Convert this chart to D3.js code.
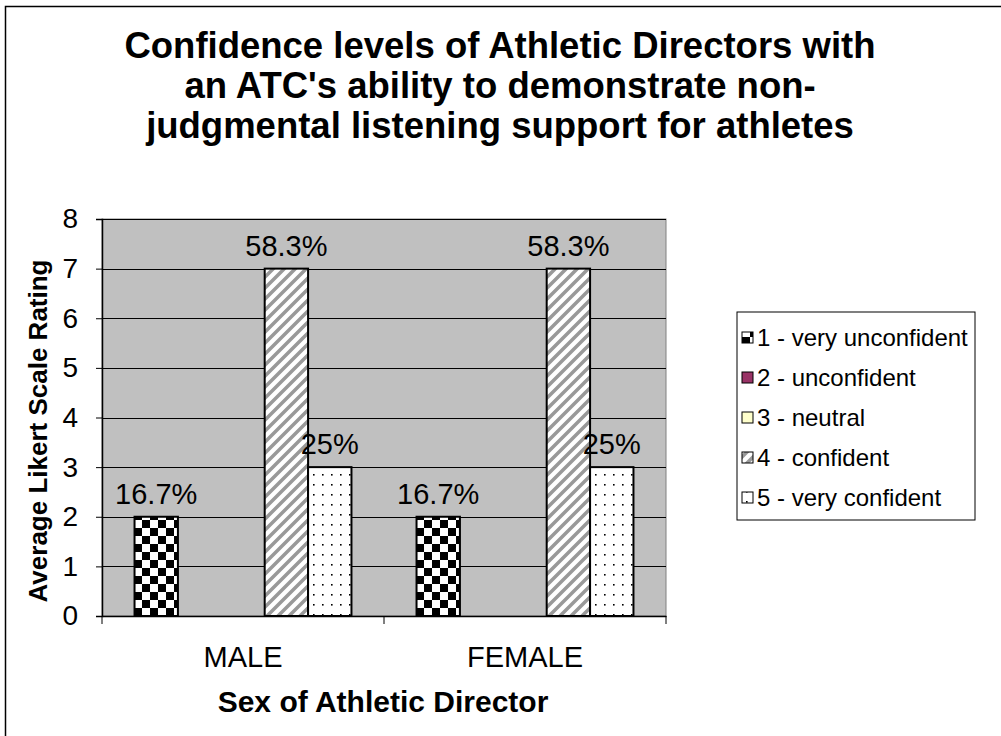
<!DOCTYPE html>
<html>
<head>
<meta charset="utf-8">
<script src="https://cdn.jsdelivr.net/npm/d3@7"></script>
<style>
  body { margin: 0; background: #fff; }
  svg { display: block; font-family: "Liberation Sans", Arial, sans-serif; }
</style>
</head>
<body>
<svg width="1001" height="736"></svg>
<script>
const categories = ["MALE", "FEMALE"];
const seriesNames = ["1 - very unconfident", "2 - unconfident", "3 - neutral", "4 - confident", "5 - very confident"];
const maleValues = [2, 0, 0, 7, 3];
const femaleValues = [2, 0, 0, 7, 3];
const barLabels = ["16.7%", "", "", "58.3%", "25%"];
const yTicks = [0, 1, 2, 3, 4, 5, 6, 7, 8];
const titleLines = ["Confidence levels of Athletic Directors with", "an ATC's ability to demonstrate non-", "judgmental listening support for athletes"];

const svg = d3.select("svg");
const plot = {left: 102, right: 666, top: 219, bottom: 616};
const font = "Liberation Sans, Arial, sans-serif";

// patterns
const defs = svg.append("defs");
const checker = defs.append("pattern").attr("id", "p0")
    .attr("patternUnits", "userSpaceOnUse").attr("width", 16).attr("height", 16);
checker.append("rect").attr("width", 16).attr("height", 16).attr("fill", "#fff");
checker.append("rect").attr("width", 8).attr("height", 8).attr("fill", "#000");
checker.append("rect").attr("x", 8).attr("y", 8).attr("width", 8).attr("height", 8).attr("fill", "#000");

const stripes = defs.append("pattern").attr("id", "p3")
    .attr("patternUnits", "userSpaceOnUse").attr("width", 11).attr("height", 11);
stripes.append("rect").attr("width", 11).attr("height", 11).attr("fill", "#fff");
stripes.append("path").attr("d", "M-2,13 L13,-2 M-2,2 L2,-2 M9,13 L13,9")
    .attr("stroke", "#999").attr("stroke-width", 3.5);

const dots = defs.append("pattern").attr("id", "p4")
    .attr("patternUnits", "userSpaceOnUse").attr("width", 9).attr("height", 10);
dots.append("rect").attr("width", 9).attr("height", 10).attr("fill", "#fff");
dots.append("rect").attr("x", 4).attr("y", 4).attr("width", 1.6).attr("height", 1.6).attr("fill", "#000");

const fills = ["url(#p0)", "#993366", "#FFFFCC", "url(#p3)", "url(#p4)"];

// outer frame
svg.append("path").attr("d", "M5.5,740 V6.5 H1005")
    .attr("fill", "none").attr("stroke", "#000").attr("stroke-width", 1.5);

// title
svg.append("text").attr("x", 500).attr("y", 58)
    .attr("text-anchor", "middle").attr("font-size", 36.5).attr("font-weight", "bold")
  .selectAll("tspan").data(titleLines).enter().append("tspan")
    .attr("x", 500).attr("dy", (d, i) => i === 0 ? 0 : 40)
    .text(d => d);

const y = d3.scaleLinear().domain([0, 8]).range([plot.bottom, plot.top]);
const x0 = d3.scaleBand().domain(categories).range([plot.left, plot.right]);
const x1 = d3.scaleBand().domain(d3.range(seriesNames.length))
    .range([0, x0.bandwidth()]).paddingInner(0).paddingOuter(0.75);

// plot area
svg.append("rect").attr("x", plot.left).attr("y", plot.top)
    .attr("width", plot.right - plot.left).attr("height", plot.bottom - plot.top)
    .attr("fill", "#C0C0C0").attr("stroke", "#808080").attr("stroke-width", 1);

svg.append("g").selectAll("line").data(yTicks.slice(1)).enter().append("line")
    .attr("x1", plot.left).attr("x2", plot.right)
    .attr("y1", d => Math.round(y(d)) + 0.5).attr("y2", d => Math.round(y(d)) + 0.5)
    .attr("stroke", "#000").attr("stroke-width", 1);

// y axis
const yAxis = svg.append("g").attr("transform", `translate(${plot.left},0)`)
    .call(d3.axisLeft(y).tickValues(yTicks).tickSize(6).tickPadding(18).tickFormat(d3.format("d")));
yAxis.select(".domain").attr("stroke", "#000").attr("stroke-width", 1.5);
yAxis.selectAll("text").attr("font-size", 28).attr("font-family", font).attr("fill", "#000");

// x axis
const xAxis = svg.append("g").attr("transform", `translate(0,${plot.bottom})`)
    .call(d3.axisBottom(x0).tickSize(0).tickPadding(30));
xAxis.select(".domain").attr("stroke", "#000").attr("stroke-width", 1.5);
xAxis.selectAll("text").attr("font-size", 29).attr("font-family", font).attr("fill", "#000");
svg.append("g").selectAll("line").data([plot.left, x0("FEMALE"), plot.right]).enter().append("line")
    .attr("x1", d => d).attr("x2", d => d).attr("y1", plot.bottom).attr("y2", plot.bottom + 8)
    .attr("stroke", "#000");

// bars
const rows = [maleValues, femaleValues];
const groups = svg.append("g").selectAll("g").data(categories).enter().append("g")
    .attr("transform", d => `translate(${x0(d)},0)`);
groups.selectAll("rect").data((d, i) => rows[i].map((v, j) => ({v, j}))).enter()
  .filter(d => d.v > 0).append("rect")
    .attr("x", d => x1(d.j)).attr("width", x1.bandwidth())
    .attr("y", d => y(d.v)).attr("height", d => y(0) - y(d.v))
    .attr("fill", d => fills[d.j]).attr("stroke", "#000").attr("stroke-width", 2);
groups.selectAll("text").data((d, i) => rows[i].map((v, j) => ({v, j}))).enter()
  .filter(d => barLabels[d.j] !== "").append("text")
    .attr("x", d => x1(d.j) + x1.bandwidth() / 2).attr("y", d => y(d.v) - 13)
    .attr("text-anchor", "middle").attr("font-size", 29)
    .text(d => barLabels[d.j]);

// axis titles
svg.append("text").attr("transform", "translate(47,431) rotate(-90)")
    .attr("text-anchor", "middle").attr("font-size", 26).attr("font-weight", "bold")
    .text("Average Likert Scale Rating");
svg.append("text").attr("x", 383).attr("y", 712)
    .attr("text-anchor", "middle").attr("font-size", 30).attr("font-weight", "bold")
    .text("Sex of Athletic Director");

// legend
const legend = svg.append("g").attr("transform", "translate(737,312)");
legend.append("rect").attr("width", 238).attr("height", 208)
    .attr("fill", "#fff").attr("stroke", "#000").attr("stroke-width", 1);
const items = legend.selectAll("g.item").data(seriesNames).enter().append("g")
    .attr("transform", (d, i) => `translate(5,${25 + i * 40})`);
items.append("rect").attr("x", 0).attr("y", -5).attr("width", 11).attr("height", 11)
    .attr("fill", (d, i) => fills[i]).attr("stroke", "#000").attr("stroke-width", 1);
items.append("text").attr("x", 15).attr("y", 9).attr("font-size", 24).text(d => d);
</script>
</body>
</html>
